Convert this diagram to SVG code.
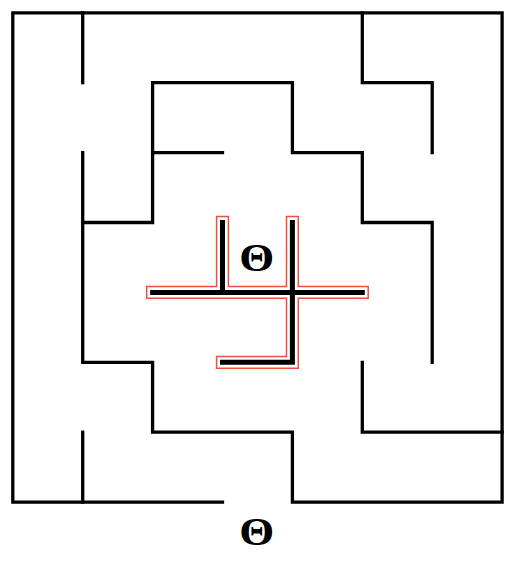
<svg xmlns="http://www.w3.org/2000/svg" width="512" height="588" viewBox="0 0 512 588">
  <style>
    .wall { fill: none; stroke: #000; stroke-width: 3.3; stroke-linecap: square; stroke-linejoin: miter; }
    .path { fill: none; stroke: #000; stroke-width: 5; stroke-linecap: square; stroke-linejoin: miter; }
    .outline { fill: none; stroke: #f0503f; stroke-width: 1.5; stroke-linejoin: miter; }
    .lbl { font-family: "Liberation Serif", "Times New Roman", serif; font-weight: bold; font-size: 41px; text-anchor: middle; fill: #000; }
  </style>
  <rect width="512" height="588" fill="#fff"/>
  <g id="maze">
    <path class="wall" d="M82.7,222.5 V362.3 H152.6 V432.2 H292.4 V502.1 H502.1 V12.8 H12.8 V502.1 H222.5"/>
    <path class="wall" d="M82.7,12.8 V82.7"/>
    <path class="wall" d="M82.7,152.6 V222.5 H152.6 V82.7 H292.4 V152.6 H362.3 V222.5 H432.2 V362.3"/>
    <path class="wall" d="M152.6,152.6 H222.5"/>
    <path class="wall" d="M82.7,432.2 V502.1"/>
    <path class="wall" d="M362.3,12.8 V82.7 H432.2 V152.6"/>
    <path class="wall" d="M362.3,362.3 V432.2 H502.1"/>
  </g>
  <g id="center-structure">
    <polygon class="outline" points="216.6,216.6 228.4,216.6 228.4,286.5 286.5,286.5 286.5,216.6 298.3,216.6 298.3,286.5 368.2,286.5 368.2,298.3 298.3,298.3 298.3,368.2 216.6,368.2 216.6,356.4 286.5,356.4 286.5,298.3 146.7,298.3 146.7,286.5 216.6,286.5 Z"/>
    <path class="path" d="M222.5,222.5 V292.4"/>
    <path class="path" d="M292.4,222.5 V362.3 H222.5"/>
    <path class="path" d="M152.6,292.4 H362.3"/>
  </g>
  <g id="label-center">
    <text class="lbl" x="256.8" y="270.5" textLength="35" lengthAdjust="spacingAndGlyphs">Θ</text>
  </g>
  <g id="label-bottom">
    <text class="lbl" x="256.8" y="544.5" textLength="35" lengthAdjust="spacingAndGlyphs">Θ</text>
  </g>
</svg>
